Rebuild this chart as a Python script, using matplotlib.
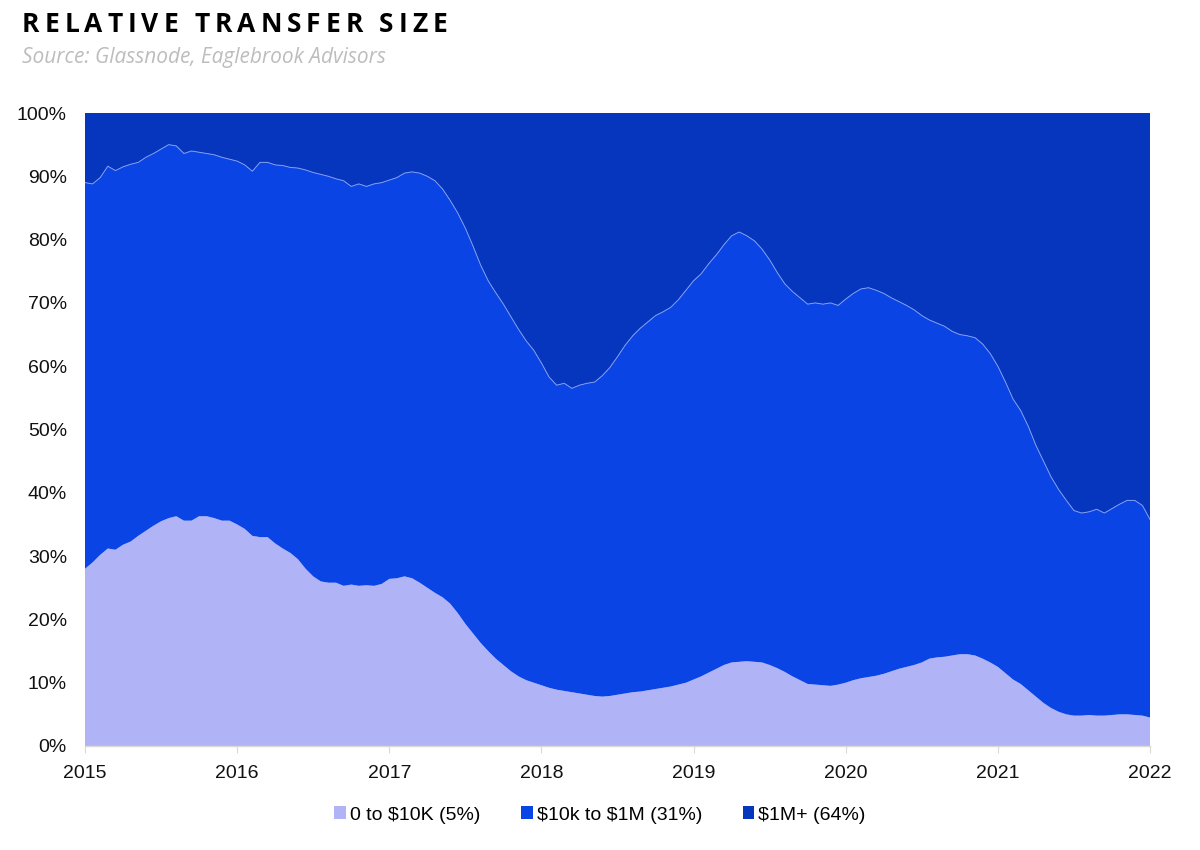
import numpy as np
import matplotlib
matplotlib.use("Agg")
import matplotlib.pyplot as plt
from matplotlib.patches import Patch
from matplotlib.ticker import FuncFormatter

# fechas cada 0.05 años, 2015 -> 2022
dates = np.round(np.arange(2015.0, 2022.0001, 0.05), 2)

# 0 to $10K (% of transfer volume)
small = [28.0, 29.0, 30.2, 31.2, 31.0, 31.8, 32.3, 33.2, 34.0, 34.8,
         35.5, 36.0, 36.3, 35.6, 35.6, 36.3, 36.3, 36.0, 35.6, 35.6,
         35.0, 34.3, 33.2, 33.0, 33.0, 32.0, 31.2, 30.5, 29.5, 28.0,
         26.8, 26.0, 25.8, 25.8, 25.3, 25.5, 25.3, 25.4, 25.3, 25.6,
         26.4, 26.5, 26.8, 26.5, 25.8, 25.0, 24.2, 23.5, 22.5, 21.0,
         19.3, 17.8, 16.3, 15.0, 13.8, 12.8, 11.8, 11.0, 10.4, 10.0,
         9.6, 9.2, 8.9, 8.7, 8.5, 8.3, 8.1, 7.9, 7.8, 7.9,
         8.1, 8.3, 8.5, 8.6, 8.8, 9.0, 9.2, 9.4, 9.7, 10.0,
         10.5, 11.0, 11.6, 12.2, 12.8, 13.2, 13.3, 13.4, 13.3, 13.2,
         12.8, 12.3, 11.7, 11.0, 10.4, 9.8, 9.7, 9.6, 9.5, 9.7,
         10.0, 10.4, 10.7, 10.9, 11.1, 11.4, 11.8, 12.2, 12.5, 12.8,
         13.2, 13.8, 14.0, 14.1, 14.3, 14.5, 14.5, 14.3, 13.8, 13.2,
         12.5, 11.5, 10.5, 9.8, 8.8, 7.8, 6.8, 6.0, 5.4, 5.0,
         4.8, 4.8, 4.9, 4.8, 4.8, 4.9, 5.0, 5.0, 4.9, 4.8,
         4.5]

# 0 to $1M acumulado (small + mid)
upto_1m = [89.0, 88.8, 89.8, 91.6, 90.9, 91.5, 91.9, 92.2, 93.0, 93.6,
           94.3, 95.0, 94.8, 93.6, 94.0, 93.8, 93.6, 93.4, 93.0, 92.7,
           92.4, 91.8, 90.8, 92.2, 92.2, 91.8, 91.7, 91.4, 91.3, 91.0,
           90.6, 90.3, 90.0, 89.6, 89.3, 88.4, 88.8, 88.4, 88.8, 89.0,
           89.4, 89.8, 90.5, 90.7, 90.5, 90.0, 89.3, 88.0, 86.2, 84.2,
           81.8, 79.0, 76.0, 73.5, 71.6, 69.8, 67.8, 65.8, 64.0, 62.5,
           60.5, 58.3, 57.0, 57.3, 56.5, 57.0, 57.3, 57.5, 58.5, 59.8,
           61.5, 63.3, 64.8, 66.0, 67.0, 68.0, 68.6, 69.3, 70.5, 72.0,
           73.5, 74.6, 76.2, 77.6, 79.2, 80.6, 81.2, 80.6, 79.8, 78.5,
           76.8, 74.8, 73.0, 71.8, 70.8, 69.8, 70.0, 69.8, 70.0, 69.6,
           70.6, 71.5, 72.2, 72.4, 72.0, 71.5, 70.8, 70.2, 69.6, 68.9,
           68.0, 67.3, 66.8, 66.3, 65.5, 65.0, 64.8, 64.5, 63.5, 62.0,
           60.0, 57.5, 54.8, 53.0, 50.5, 47.5, 45.0, 42.5, 40.5, 38.8,
           37.2, 36.8, 37.0, 37.4, 36.8, 37.5, 38.2, 38.8, 38.8, 38.0,
           35.8]

labels = ["0 to \\$10K (5%)", "\\$10k to \\$1M (31%)", "\\$1M+ (64%)"]
colors = ["#b0b3f6", "#0a44e4", "#0536bd"]
year_ticks = [2015, 2016, 2017, 2018, 2019, 2020, 2021, 2022]

small = np.array(small)
upto_1m = np.array(upto_1m)
mid = upto_1m - small
large = 100 - upto_1m

fig = plt.figure(figsize=(12, 8.5), dpi=100)
ax = fig.add_axes([85/1200, 104/850, 1065/1200, 633/850])

ax.stackplot(dates, small, mid, large, colors=colors, linewidth=0)
ax.plot(dates, upto_1m, color="#7f9cf2", lw=0.7)

ax.set_xlim(2015, 2022)
ax.set_ylim(0, 100)
ax.set_xticks(year_ticks)
ax.set_yticks(range(0, 101, 10))
ax.yaxis.set_major_formatter(FuncFormatter(lambda v, p: f"{v:.0f}%"))

for s in ["top", "right", "left"]:
    ax.spines[s].set_visible(False)
ax.spines["bottom"].set_color("#d9d9d9")
ax.spines["bottom"].set_linewidth(1)
ax.tick_params(axis="x", length=5, color="#d9d9d9", pad=9, labelsize=14)
ax.tick_params(axis="y", length=0, pad=13, labelsize=14)
for t in ax.get_xticklabels() + ax.get_yticklabels():
    t.set_fontfamily("Liberation Sans")
    t.set_color("#111111")

handles = [Patch(facecolor=c, edgecolor="none") for c in colors]
fig.legend(handles, labels, loc="center", bbox_to_anchor=(0.5, 35/850), ncol=3,
           frameon=False, handlelength=0.6, handleheight=0.6, handletextpad=0.2,
           columnspacing=2.1, prop={"family": "Liberation Sans", "size": 14})

# titulo con espaciado entre letras
title = "RELATIVE TRANSFER SIZE"
renderer = fig.canvas.get_renderer()
x0, x1 = 22, 447
ty = 1 - 24/850
chars = []
total = 0
for ch in title:
    t = fig.text(0, ty, ch, fontsize=19, fontweight="bold", family="Open Sans",
                 va="center", ha="left", color="black")
    w = t.get_window_extent(renderer).width if ch != " " else 6
    chars.append((t, w))
    total += w
gap = ((x1 - x0) - total) / (len(title) - 1)
x = x0
for t, w in chars:
    t.set_x(x/1200)
    x += w + gap

fig.text(22/1200, 1 - 57/850, "Source: Glassnode, Eaglebrook Advisors", fontsize=15,
         style="italic", family="Open Sans", color="#bdbdbd", va="center", ha="left")

fig.savefig("out.png", dpi=100)
